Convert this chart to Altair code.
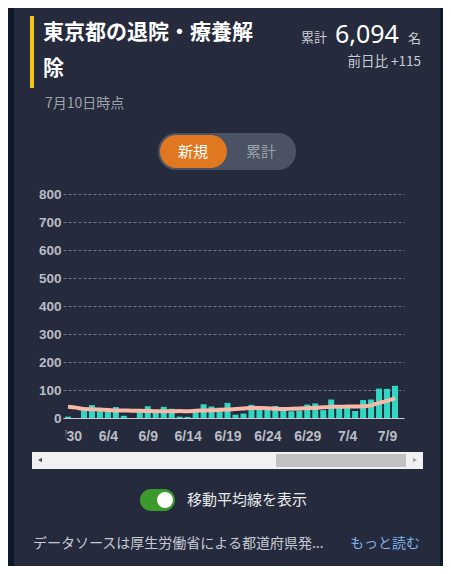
import altair as alt
import pandas as pd

# ---------------- data ----------------
dates = ["5/30", "5/31", "6/1", "6/2", "6/3", "6/4", "6/5", "6/6", "6/7", "6/8",
         "6/9", "6/10", "6/11", "6/12", "6/13", "6/14", "6/15", "6/16", "6/17", "6/18",
         "6/19", "6/20", "6/21", "6/22", "6/23", "6/24", "6/25", "6/26", "6/27", "6/28",
         "6/29", "6/30", "7/1", "7/2", "7/3", "7/4", "7/5", "7/6", "7/7", "7/8",
         "7/9", "7/10"]
new_discharged = [5, 0, 28, 46, 36, 28, 39, 8, 0, 22,
                  42, 22, 40, 33, 5, 4, 22, 49, 41, 37,
                  54, 12, 16, 47, 36, 35, 43, 30, 24, 27,
                  48, 52, 28, 66, 40, 36, 25, 64, 66, 105,
                  104, 115]
moving_avg = [40, 37, 32, 31, 30, 29, 27, 27, 26, 26,
              25, 24, 24, 24, 25, 24, 26, 27, 28, 29,
              30, 32, 34, 36, 36, 35, 33, 32, 33, 34,
              35, 36, 38, 40, 40, 41, 41, 42, 45, 54,
              61, 71]
y_ticks = [0, 100, 200, 300, 400, 500, 600, 700, 800]
x_tick_idx = [0, 5, 10, 15, 20, 25, 30, 35, 40]

df = pd.DataFrame({
    "i": list(range(len(dates))),
    "date": dates,
    "new": new_discharged,
    "avg": moving_avg,
})

CJK = "Noto Sans CJK JP"
NUM = "Liberation Sans"
PAGE = "#0c1a2a"
CARD = "#252a3c"
W, H = 341, 224
PAD = {"left": 55, "top": 186, "right": 39, "bottom": 148}

label_lookup = "[" + ",".join("'%s'" % d for d in dates) + "][datum.value]"

x_scale = alt.Scale(domain=[0, len(dates) - 0.5], nice=False, zero=False)
y_scale = alt.Scale(domain=[0, 800], nice=False)
x_axis = alt.Axis(values=x_tick_idx, labelExpr=label_lookup, title=None,
                  grid=False, ticks=False, domain=True, domainColor="#c9ccd3",
                  domainWidth=1, labelFont=NUM, labelFontWeight="bold",
                  labelFontSize=14, labelColor="#b9bdc5", labelPadding=11,
                  labelFlush=False, labelOverlap=False)
y_axis = alt.Axis(values=y_ticks, tickCount=9, title=None, grid=True, gridColor="#6c7182",
                  gridDash=[3, 2], gridWidth=1, ticks=False, domain=False,
                  labelFont=NUM, labelFontWeight="bold", labelFontSize=13.5,
                  labelColor="#b9bdc5", labelPadding=2, labelOverlap=False,
                  labelFlush=False)

bars = alt.Chart(df).mark_bar(color="#30d8c4", size=6, clip=True).encode(
    x=alt.X("i:Q", scale=x_scale, axis=x_axis),
    y=alt.Y("new:Q", scale=y_scale, axis=y_axis))
line = alt.Chart(df).mark_line(color="#f8b9a8", strokeWidth=4, interpolate="monotone",
                               clip=True).encode(
    x=alt.X("i:Q", scale=x_scale, axis=x_axis),
    y=alt.Y("avg:Q", scale=y_scale, axis=y_axis))

one = pd.DataFrame({"k": [0]})


def box(x1, x2, y1, y2, color, r=0):
    return alt.Chart(one).mark_rect(color=color, cornerRadius=r).encode(
        x=alt.value(x1), x2=alt.value(x2), y=alt.value(y1), y2=alt.value(y2))


def txt(s, x, y, size, color, weight="normal", align="left", font=CJK):
    return alt.Chart(one).mark_text(text=s, align=align, baseline="middle", fontSize=size,
                                    font=font, fontWeight=weight, color=color).encode(
        x=alt.value(x), y=alt.value(y))


ox, oy = 63, 194  # page position of plot origin


def px(x):
    return x - ox


def py(y):
    return y - oy


deco = [
    # page strips outside the card
    box(-55, px(14), -186, 372, PAGE),
    box(px(440), 380, -186, 372, PAGE),
    # yellow marker
    box(px(30), px(34), py(16), py(88), "#f4c514"),
    # title
    txt("東京都の退院・療養解", px(43), py(33), 21, "#ffffff", "bold"),
    txt("除", px(43), py(69), 21, "#ffffff", "bold"),
    txt("累計", px(301), py(38), 13, "#c8cdd6"),
    txt("6,094", px(335), py(35), 25, "#ffffff", font="Noto Sans"),
    txt("名", px(408), py(39), 13, "#c8cdd6"),
    txt("前日比 +115", px(421), py(62), 13.5, "#c8cdd6", align="right"),
    txt("7月10日時点", px(45), py(104), 14, "#9ea3ad"),
    # segmented toggle
    box(px(158), px(296), py(133), py(170), "#4b5264", 18),
    box(px(160), px(227), py(135), py(168), "#e07822", 17),
    txt("新規", px(193), py(152), 15, "#ffffff", align="center"),
    txt("累計", px(261), py(152), 15, "#9aa0aa", align="center"),
    # cover the clipped part of the first x label
    box(-30, 2.7, 229, 253, CARD),
    # scrollbar
    box(px(32), px(423), py(452), py(469), "#f1f1f1"),
    box(px(276), px(406), py(454), py(467), "#c1c1c1"),
    alt.Chart(one).mark_point(shape="triangle-left", filled=True, size=22, color="#505050",
                              opacity=1).encode(x=alt.value(px(40)), y=alt.value(py(460))),
    alt.Chart(one).mark_point(shape="triangle-right", filled=True, size=22, color="#a3a3a3",
                              opacity=1).encode(x=alt.value(px(415)), y=alt.value(py(460))),
    # switch
    box(px(140), px(175), py(489), py(511), "#3a9a2c", 11),
    alt.Chart(one).mark_point(shape="circle", filled=True, size=254, color="#ffffff",
                              opacity=1).encode(x=alt.value(px(165)), y=alt.value(py(500))),
    txt("移動平均線を表示", px(187), py(500), 15, "#e8eaee"),
    # footer
    txt("データソースは厚生労働省による都道府県発...", px(33), py(544), 14, "#c5cad3"),
    txt("もっと読む", px(350), py(544), 14, "#7db3ea"),
]

chart = alt.layer(bars, line, *deco).properties(
    width=W, height=H,
    padding=PAD,
    autosize=alt.AutoSizeParams(type="none"),
    background=CARD,
).configure_view(stroke=None)

chart.save("out.html", embed_options={"renderer": "svg", "actions": False})
